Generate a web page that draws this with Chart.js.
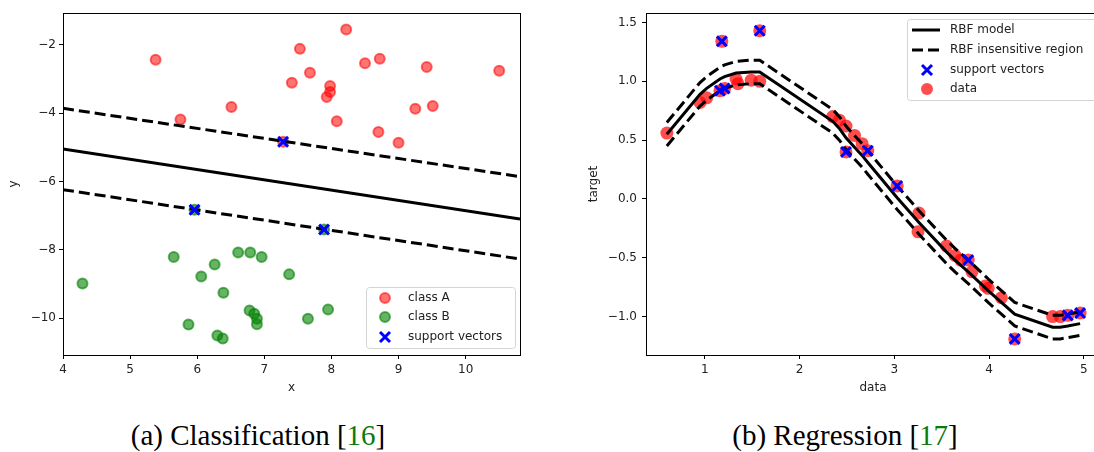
<!DOCTYPE html>
<html>
<head>
<meta charset="utf-8">
<script src="https://cdn.jsdelivr.net/npm/chart.js@4.4.0/dist/chart.umd.min.js"></script>
<style>
  html, body { margin: 0; padding: 0; background: #fff; overflow: hidden; }
  body { position: relative; width: 1094px; height: 452px; }
  #wrapA { position: absolute; left: 0; top: 0; width: 530px; height: 400px; }
  #wrapB { position: absolute; left: 570px; top: 0; width: 540px; height: 400px; }
  .caption {
    position: absolute; top: 419px; transform: translateX(-50%);
    font-family: "Liberation Serif", serif; font-size: 29px; color: #000; white-space: nowrap;
  }
  .cite { color: #0b7a0b; }
</style>
</head>
<body>
<div id="wrapA"><canvas id="chartA" width="530" height="400"></canvas></div>
<div id="wrapB"><canvas id="chartB" width="540" height="400"></canvas></div>
<div class="caption" style="left:258px">(a) Classification [<span class="cite">16</span>]</div>
<div class="caption" style="left:845px">(b) Regression [<span class="cite">17</span>]</div>
<script>
// ---- classification data ----
const classAX = [5.38, 7.53, 8.22, 8.50, 8.72, 9.42, 10.50, 7.68, 7.41, 7.98, 7.98, 7.93, 6.51, 5.75, 9.25, 9.51, 8.08, 8.70, 9.00, 7.28];
const classAY = [-2.44, -2.12, -1.55, -2.54, -2.41, -2.65, -2.76, -2.82, -3.11, -3.21, -3.38, -3.53, -3.82, -4.19, -3.87, -3.79, -4.24, -4.55, -4.87, -4.84];
const classBX = [4.29, 5.65, 6.06, 6.26, 6.61, 6.79, 6.96, 6.39, 7.37, 5.87, 6.30, 6.38, 6.78, 6.85, 6.89, 6.89, 7.65, 7.95, 5.96, 7.89];
const classBY = [-8.99, -8.21, -8.78, -8.43, -8.08, -8.08, -8.21, -9.26, -8.72, -10.19, -10.51, -10.60, -9.78, -9.87, -10.02, -10.18, -10.02, -9.75, -6.83, -7.41];
const svClsX = [7.28, 5.96, 7.89];
const svClsY = [-4.84, -6.83, -7.41];

// decision boundary and margins (end points)
const lineX = [4.0, 10.81];
const boundaryY = [-5.05, -7.10];
const marginUpY = [-3.86, -5.86];
const marginLowY = [-6.24, -8.27];

const clsXTicks = [4, 5, 6, 7, 8, 9, 10];
const clsYTicks = [-10, -8, -6, -4, -2];

// ---- regression data ----
const dataX = [0.60, 0.95, 1.02, 1.16, 1.18, 1.21, 1.33, 1.35, 1.49, 1.58, 1.58, 2.35, 2.42, 2.49, 2.49, 2.58, 2.66, 2.72, 3.03, 3.25, 3.26, 3.55, 3.64, 3.70, 3.78, 3.82, 3.96, 3.99, 4.13, 4.27, 4.67, 4.75, 4.83, 4.96];
const dataY = [0.56, 0.82, 0.86, 0.92, 1.34, 0.94, 1.02, 0.98, 1.01, 1.00, 1.43, 0.70, 0.67, 0.62, 0.40, 0.54, 0.47, 0.41, 0.11, -0.28, -0.12, -0.40, -0.48, -0.52, -0.52, -0.62, -0.74, -0.76, -0.84, -1.19, -1.00, -1.00, -0.99, -0.97];
const svRegX = [1.16, 1.18, 1.21, 1.58, 2.49, 2.72, 3.03, 3.78, 4.27, 4.83, 4.96];
const svRegY = [0.92, 1.34, 0.94, 1.43, 0.40, 0.41, 0.11, -0.52, -1.19, -0.99, -0.97];

// fitted model and its insensitive tube
const modelX = [0.60, 0.95, 1.02, 1.16, 1.21, 1.33, 1.49, 1.58, 2.35, 2.42, 2.49, 2.58, 2.66, 2.72, 3.03, 3.26, 3.55, 3.64, 3.78, 3.99, 4.13, 4.27, 4.67, 4.75, 4.83, 4.96];
const modelY = [0.55, 0.89, 0.94, 1.02, 1.04, 1.07, 1.08, 1.08, 0.66, 0.60, 0.52, 0.44, 0.37, 0.31, 0.01, -0.20, -0.45, -0.52, -0.62, -0.78, -0.88, -0.98, -1.09, -1.09, -1.08, -1.06];
const tubeUpY = [0.65, 0.99, 1.04, 1.12, 1.14, 1.17, 1.18, 1.18, 0.76, 0.70, 0.62, 0.54, 0.47, 0.41, 0.11, -0.10, -0.35, -0.42, -0.52, -0.68, -0.78, -0.88, -0.99, -0.99, -0.98, -0.96];
const tubeLowY = [0.45, 0.79, 0.84, 0.92, 0.94, 0.97, 0.98, 0.98, 0.56, 0.50, 0.42, 0.34, 0.27, 0.21, -0.09, -0.30, -0.55, -0.62, -0.72, -0.88, -0.98, -1.08, -1.19, -1.19, -1.18, -1.16];

const regXTicks = [1, 2, 3, 4, 5];
const regYTicks = [-1.0, -0.5, 0.0, 0.5, 1.0, 1.5];

// ---- helpers ----
const pts = (xs, ys) => xs.map((x, i) => ({ x: x, y: ys[i] }));
const minus = s => String(s).replace('-', '\u2212');
const FONT = { family: 'DejaVu Sans', size: 12 };
const TEXT = '#222';

function axis(opts) {
  return {
    type: 'linear',
    position: opts.position,
    min: opts.min,
    max: opts.max,
    afterBuildTicks: s => { s.ticks = opts.ticks.map(v => ({ value: v })); },
    afterFit: s => {
      if (opts.position === 'left') s.width = opts.size; else s.height = opts.size;
    },
    grid: { display: true, drawOnChartArea: false, drawTicks: true, tickLength: 4, color: '#000', lineWidth: 1 },
    border: { display: false },
    ticks: { font: FONT, color: TEXT, padding: opts.tickPad, maxRotation: 0, autoSkip: false, callback: opts.fmt },
    title: { display: true, text: opts.title, font: FONT, color: TEXT, padding: opts.titlePad }
  };
}

// box around the plot area
const framePlugin = {
  id: 'frame',
  afterDatasetsDraw(chart) {
    const a = chart.chartArea, ctx = chart.ctx;
    ctx.save();
    ctx.strokeStyle = '#000';
    ctx.lineWidth = 1;
    ctx.strokeRect(Math.round(a.left) + 0.5, Math.round(a.top) + 0.5, Math.round(a.right - a.left), Math.round(a.bottom - a.top));
    ctx.restore();
  }
};

// legend drawn inside the axes
const boxLegend = {
  id: 'boxLegend',
  afterDraw(chart, args, o) {
    const ctx = chart.ctx;
    ctx.save();
    ctx.fillStyle = 'rgba(255,255,255,0.85)';
    ctx.strokeStyle = '#d4d4d4';
    ctx.lineWidth = 1;
    ctx.beginPath();
    ctx.roundRect(o.x + 0.5, o.y + 0.5, o.w, o.h, 3);
    ctx.fill();
    ctx.stroke();
    ctx.font = '12px "DejaVu Sans"';
    ctx.textBaseline = 'middle';
    o.items.forEach((it, i) => {
      const y = o.rowY[i];
      const mx = o.markX;
      ctx.setLineDash([]);
      if (it.kind === 'circle') {
        ctx.beginPath();
        ctx.arc(mx, y, it.r, 0, Math.PI * 2);
        ctx.fillStyle = it.color;
        ctx.fill();
        if (it.ring) { ctx.lineWidth = 2; ctx.strokeStyle = it.color; ctx.stroke(); }
      } else if (it.kind === 'cross') {
        ctx.strokeStyle = it.color;
        ctx.lineWidth = 3;
        ctx.beginPath();
        ctx.moveTo(mx - 5, y - 5); ctx.lineTo(mx + 5, y + 5);
        ctx.moveTo(mx + 5, y - 5); ctx.lineTo(mx - 5, y + 5);
        ctx.stroke();
      } else {
        ctx.strokeStyle = it.color;
        ctx.lineWidth = 3;
        if (it.kind === 'dash') ctx.setLineDash([11, 5]);
        ctx.beginPath();
        ctx.moveTo(o.lineX0, y); ctx.lineTo(o.lineX1, y);
        ctx.stroke();
      }
      ctx.setLineDash([]);
      ctx.fillStyle = TEXT;
      ctx.fillText(it.label, o.textX, y);
    });
    ctx.restore();
  }
};

// ---- classification chart ----
new Chart(document.getElementById('chartA'), {
  type: 'scatter',
  data: {
    datasets: [
      { label: 'support vectors', data: pts(svClsX, svClsY), order: 0, pointStyle: 'crossRot', pointRadius: 7, borderWidth: 3, borderColor: '#0000ff', backgroundColor: '#0000ff' },
      { label: 'boundary', type: 'line', data: pts(lineX, boundaryY), order: 1, borderColor: '#000', borderWidth: 3, pointRadius: 0, fill: false },
      { label: 'margin up', type: 'line', data: pts(lineX, marginUpY), order: 1, borderColor: '#000', borderWidth: 3, borderDash: [11, 5], pointRadius: 0, fill: false },
      { label: 'margin low', type: 'line', data: pts(lineX, marginLowY), order: 1, borderColor: '#000', borderWidth: 3, borderDash: [11, 5], pointRadius: 0, fill: false },
      { label: 'class A', data: pts(classAX, classAY), order: 3, pointRadius: 5, borderWidth: 2, backgroundColor: 'rgba(255,0,0,0.55)', borderColor: 'rgba(255,0,0,0.55)' },
      { label: 'class B', data: pts(classBX, classBY), order: 2, pointRadius: 5, borderWidth: 2, backgroundColor: 'rgba(0,128,0,0.6)', borderColor: 'rgba(0,128,0,0.6)' }
    ]
  },
  options: {
    responsive: false,
    animation: false,
    events: [],
    layout: { padding: { top: 13, right: 9, left: 0, bottom: 0 } },
    scales: {
      x: axis({ position: 'bottom', min: 4.0, max: 10.81, ticks: clsXTicks, size: 45, tickPad: 4, title: 'x', titlePad: { top: 0, bottom: 5 }, fmt: v => minus(v) }),
      y: axis({ position: 'left', min: -11.08, max: -1.07, ticks: clsYTicks, size: 63, tickPad: 3, title: 'y', titlePad: { top: 7, bottom: 0 }, fmt: v => minus(v) })
    },
    plugins: {
      legend: { display: false },
      tooltip: { enabled: false },
      boxLegend: {
        x: 366, y: 287, w: 149, h: 61, markX: 385, textX: 408, rowY: [298, 317, 337],
        items: [
          { label: 'class A', kind: 'circle', r: 5, ring: true, color: 'rgba(255,0,0,0.55)' },
          { label: 'class B', kind: 'circle', r: 5, ring: true, color: 'rgba(0,128,0,0.6)' },
          { label: 'support vectors', kind: 'cross', color: '#0000ff' }
        ]
      }
    }
  },
  plugins: [framePlugin, boxLegend]
});

// ---- regression chart ----
new Chart(document.getElementById('chartB'), {
  type: 'scatter',
  data: {
    datasets: [
      { label: 'support vectors', data: pts(svRegX, svRegY), order: 0, pointStyle: 'crossRot', pointRadius: 7, borderWidth: 3, borderColor: '#0000ff', backgroundColor: '#0000ff' },
      { label: 'RBF model', type: 'line', data: pts(modelX, modelY), order: 1, borderColor: '#000', borderWidth: 3, pointRadius: 0, tension: 0, fill: false },
      { label: 'RBF insensitive region', type: 'line', data: pts(modelX, tubeUpY), order: 1, borderColor: '#000', borderWidth: 3, borderDash: [11, 5], pointRadius: 0, tension: 0, fill: false },
      { label: 'RBF insensitive region low', type: 'line', data: pts(modelX, tubeLowY), order: 1, borderColor: '#000', borderWidth: 3, borderDash: [11, 5], pointRadius: 0, tension: 0, fill: false },
      { label: 'data', data: pts(dataX, dataY), order: 2, pointRadius: 6.5, borderWidth: 0, backgroundColor: 'rgba(255,0,0,0.7)' }
    ]
  },
  options: {
    responsive: false,
    animation: false,
    events: [],
    layout: { padding: { top: 13, right: 8, left: 0, bottom: 0 } },
    scales: {
      x: axis({ position: 'bottom', min: 0.38, max: 5.17, ticks: regXTicks, size: 45, tickPad: 4, title: 'data', titlePad: { top: 0, bottom: 5 }, fmt: v => minus(v) }),
      y: axis({ position: 'left', min: -1.327, max: 1.581, ticks: regYTicks, size: 76, tickPad: 5, title: 'target', titlePad: { top: 17, bottom: 0 }, fmt: v => minus(v.toFixed(1)) })
    },
    plugins: {
      legend: { display: false },
      tooltip: { enabled: false },
      boxLegend: {
        x: 337, y: 19, w: 200, h: 81, markX: 357, lineX0: 342, lineX1: 370, textX: 380, rowY: [30, 50, 70, 89],
        items: [
          { label: 'RBF model', kind: 'line', color: '#000' },
          { label: 'RBF insensitive region', kind: 'dash', color: '#000' },
          { label: 'support vectors', kind: 'cross', color: '#0000ff' },
          { label: 'data', kind: 'circle', r: 6, color: 'rgba(255,0,0,0.7)' }
        ]
      }
    }
  },
  plugins: [framePlugin, boxLegend]
});
</script>
</body>
</html>
